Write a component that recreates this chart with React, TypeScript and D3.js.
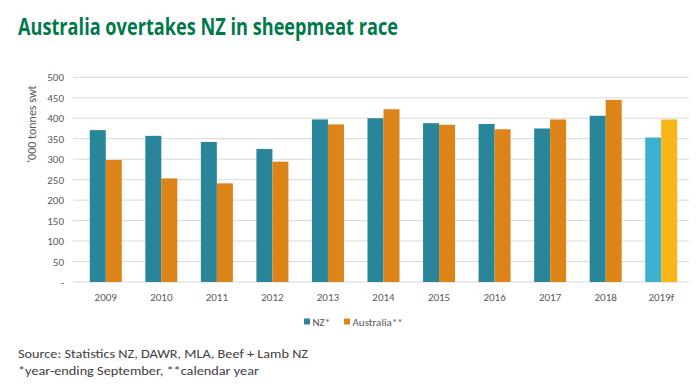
import React from "react";
import * as d3 from "d3";

const categories = ["2009", "2010", "2011", "2012", "2013", "2014", "2015", "2016", "2017", "2018", "2019f"];
const nzValues = [371, 357, 342, 325, 397, 400, 388, 386, 375, 406, 353];
const ausValues = [298, 253, 241, 294, 385, 422, 384, 373, 397, 445, 397];
const yTicks = [0, 50, 100, 150, 200, 250, 300, 350, 400, 450, 500];
const seriesNames = ["NZ*", "Australia**"];

const W = 700;
const H = 390;
const font = "Calibri, Carlito, 'Open Sans', 'Liberation Sans', sans-serif";

export default function App() {
  const x = d3.scaleBand<string>().domain(categories).range([78, 689]).paddingInner(0).paddingOuter(0);
  const y = d3.scaleLinear().domain([0, 500]).range([282, 77.3]);
  const bw = 16;
  const nzColor = (c: string) => (c === "2019f" ? "#3AB1CF" : "#29869A");
  const ausColor = (c: string) => (c === "2019f" ? "#FAB618" : "#DD8419");

  return (
    <svg width={W} height={H} style={{ position: "absolute", left: 0, top: 0, background: "#fff" }}>
      <rect x={0} y={0} width={W} height={H} fill="#fff" />
      <text x={18} y={35} fontFamily="'Open Sans', sans-serif" fontWeight={700} fontSize={23} fill="#00794A"
        textLength={380} lengthAdjust="spacingAndGlyphs">
        Australia overtakes NZ in sheepmeat race
      </text>
      {yTicks.map((t) => (
        <g key={t}>
          <line x1={73} x2={689} y1={y(t)} y2={y(t)} stroke="#D9D9D9" strokeWidth={1} />
          <text x={64} y={y(t) + 4} textAnchor="end" fontFamily={font} fontSize={11} fill="#595959">
            {t === 0 ? "-" : t}
          </text>
        </g>
      ))}
      <text transform="translate(36,124) rotate(-90)" textAnchor="middle" fontFamily={font} fontSize={12} fill="#595959">
        '000 tonnes swt
      </text>
      {categories.map((c, i) => {
        const cx = (x(c) as number) + x.bandwidth() / 2;
        return (
          <g key={c}>
            <rect x={cx - bw} y={y(nzValues[i])} width={bw} height={y(0) - y(nzValues[i])} fill={nzColor(c)} />
            <rect x={cx} y={y(ausValues[i])} width={bw} height={y(0) - y(ausValues[i])} fill={ausColor(c)} />
            <text x={cx} y={301} textAnchor="middle" fontFamily={font} fontSize={11} fill="#595959">
              {c}
            </text>
          </g>
        );
      })}
      <rect x={304} y={318.5} width={6} height={6} fill="#29869A" />
      <text x={312.5} y={325.5} fontFamily={font} fontSize={11} fill="#595959">{seriesNames[0]}</text>
      <rect x={344} y={318.5} width={6} height={6} fill="#DD8419" />
      <text x={352.5} y={325.5} fontFamily={font} fontSize={11} fill="#595959">{seriesNames[1]}</text>
      <text x={18} y={358} fontFamily={font} fontSize={12.5} fill="#404040" textLength={290} lengthAdjust="spacingAndGlyphs">
        Source: Statistics NZ, DAWR, MLA, Beef + Lamb NZ
      </text>
      <text x={18} y={375} fontFamily={font} fontSize={12.5} fill="#404040" textLength={241} lengthAdjust="spacingAndGlyphs">
        *year-ending September, **calendar year
      </text>
    </svg>
  );
}
